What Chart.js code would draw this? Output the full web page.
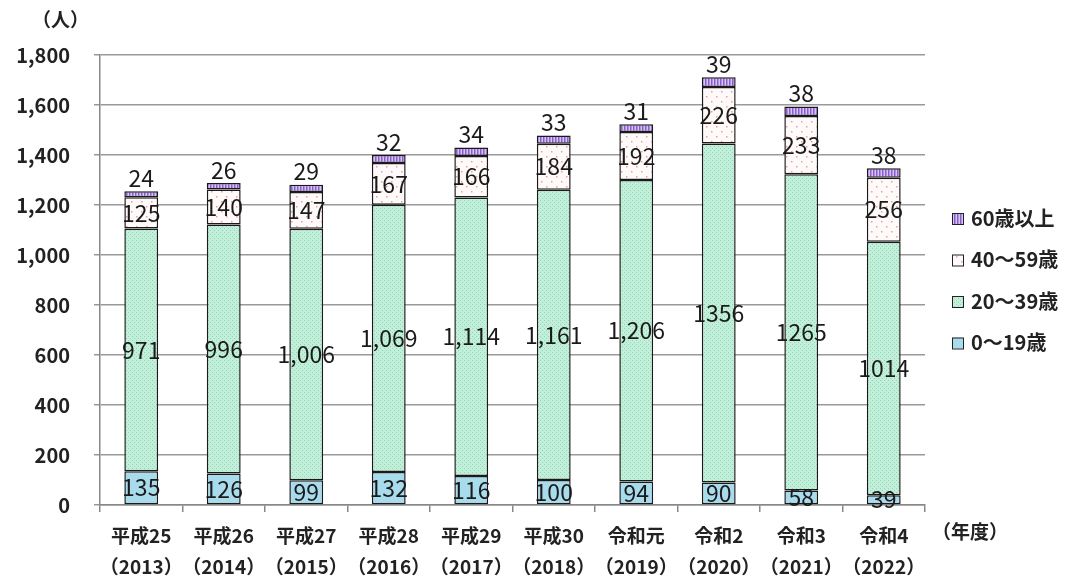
<!DOCTYPE html>
<html>
<head>
<meta charset="utf-8">
<script src="https://cdn.jsdelivr.net/npm/chart.js@4/dist/chart.umd.min.js"></script>
<style>
  html, body { margin: 0; padding: 0; background: #fff; }
  #wrap { position: relative; width: 1073px; height: 578px; }
</style>
</head>
<body>
<div id="wrap"><canvas id="chart" width="1073" height="578"></canvas></div>
<script>
const years = [
  ["平成25", "（2013）"], ["平成26", "（2014）"], ["平成27", "（2015）"], ["平成28", "（2016）"],
  ["平成29", "（2017）"], ["平成30", "（2018）"], ["令和元", "（2019）"], ["令和2", "（2020）"],
  ["令和3", "（2021）"], ["令和4", "（2022）"]
];
const age0to19 = [135, 126, 99, 132, 116, 100, 94, 90, 58, 39];
const age20to39 = [971, 996, 1006, 1069, 1114, 1161, 1206, 1356, 1265, 1014];
const age40to59 = [125, 140, 147, 167, 166, 184, 192, 226, 233, 256];
const age60plus = [24, 26, 29, 32, 34, 33, 31, 39, 38, 38];
const seriesNames = ["0～19歳", "20～39歳", "40～59歳", "60歳以上"];
const commaYears = 7; // the first 7 years print with thousands separators
const yTicks = [0, 200, 400, 600, 800, 1000, 1200, 1400, 1600, 1800];

const FONT = '"Noto Sans CJK JP", "Noto Sans", sans-serif';

// small fill patterns like the original bars
function makePattern(w, h, bg, draw) {
  const c = document.createElement("canvas");
  c.width = w; c.height = h;
  const g = c.getContext("2d");
  g.fillStyle = bg;
  g.fillRect(0, 0, w, h);
  draw(g);
  return g.createPattern(c, "repeat");
}
const fillBlue = "#a8dcec";
const fillGreen = makePattern(4, 4, "#c2efd9", g => {
  g.fillStyle = "#8fd6b4";
  g.fillRect(0, 0, 1, 1);
  g.fillRect(2, 2, 1, 1);
});
const fillPink = makePattern(10, 10, "#fffafa", g => {
  g.fillStyle = "#f29a9a";
  g.fillRect(1, 1, 1.5, 1.5);
  g.fillRect(6, 6, 1.5, 1.5);
});
const fillPurple = makePattern(3, 3, "#d6c4f2", g => {
  g.fillStyle = "#8a5cd0";
  g.fillRect(0, 0, 1.5, 3);
});
const fills = [fillBlue, fillGreen, fillPink, fillPurple];

function fmt(v, si, i) {
  if (si === 1 && i < commaYears) return v.toLocaleString("en-US");
  return String(v);
}

const labelPlugin = {
  id: "segLabels",
  afterDatasetsDraw(chart) {
    const ctx = chart.ctx;
    ctx.save();
    ctx.fillStyle = "#1a1a1a";
    ctx.font = "23px " + FONT;
    ctx.textAlign = "center";
    ctx.textBaseline = "middle";
    chart.data.datasets.forEach((ds, si) => {
      const meta = chart.getDatasetMeta(si);
      meta.data.forEach((bar, i) => {
        const txt = fmt(ds.data[i], si, i);
        if (si === 3) {
          ctx.fillText(txt, bar.x, bar.y - 13);
        } else {
          ctx.fillText(txt, bar.x, (bar.y + bar.base) / 2);
        }
      });
    });
    ctx.restore();
  },
  afterDraw(chart) {
    const ctx = chart.ctx;
    ctx.save();
    ctx.fillStyle = "#222";
    ctx.font = "bold 19px " + FONT;
    ctx.textBaseline = "middle";
    ctx.textAlign = "left";
    ctx.fillText("（人）", 32, 20);
    ctx.fillText("（年度）", 932, 532);
    // legend, top item is the last series
    ctx.font = "bold 20px " + FONT;
    const order = [3, 2, 1, 0];
    order.forEach((si, k) => {
      const y = 218 + k * 41.5;
      ctx.fillStyle = fills[si];
      ctx.fillRect(952, y - 5, 11, 11);
      ctx.strokeStyle = "#222";
      ctx.lineWidth = 1;
      ctx.strokeRect(952.5, y - 4.5, 11, 11);
      ctx.fillStyle = "#222";
      ctx.fillText(seriesNames[si], 971, y);
    });
    ctx.restore();
  }
};

const datasets = [age0to19, age20to39, age40to59, age60plus].map((d, si) => ({
  label: seriesNames[si],
  data: d,
  backgroundColor: fills[si],
  borderColor: "#1a1a1a",
  borderWidth: 1.5,
  borderSkipped: false,
  barPercentage: 0.41,
  categoryPercentage: 1
}));

new Chart(document.getElementById("chart"), {
  type: "bar",
  data: { labels: years, datasets: datasets },
  plugins: [labelPlugin],
  options: {
    responsive: false,
    animation: false,
    layout: { padding: { left: 0, right: 148, top: 55, bottom: 0 } },
    plugins: { legend: { display: false }, tooltip: { enabled: false } },
    scales: {
      x: {
        stacked: true,
        grid: { offset: true, drawOnChartArea: false, drawTicks: true, tickLength: 7, color: "#888", lineWidth: 1.5 },
        border: { color: "#888", width: 1.5 },
        ticks: { color: "#222", font: { family: FONT, size: 19, weight: "bold", lineHeight: 1.65 }, padding: 8, maxRotation: 0, autoSkip: false },
        afterFit(scale) { scale.height = 73; }
      },
      y: {
        stacked: true,
        min: 0,
        max: 1800,
        afterBuildTicks(scale) { scale.ticks = yTicks.map(v => ({ value: v })); },
        grid: { color: "#999", lineWidth: 1.5, tickLength: 6 },
        border: { color: "#888", width: 1.5 },
        ticks: {
          color: "#222",
          font: { family: FONT, size: 20, weight: "bold" },
          padding: 24,
          callback: v => v.toLocaleString("en-US")
        },
        afterFit(scale) { scale.width = 100; }
      }
    }
  }
});
</script>
</body>
</html>
